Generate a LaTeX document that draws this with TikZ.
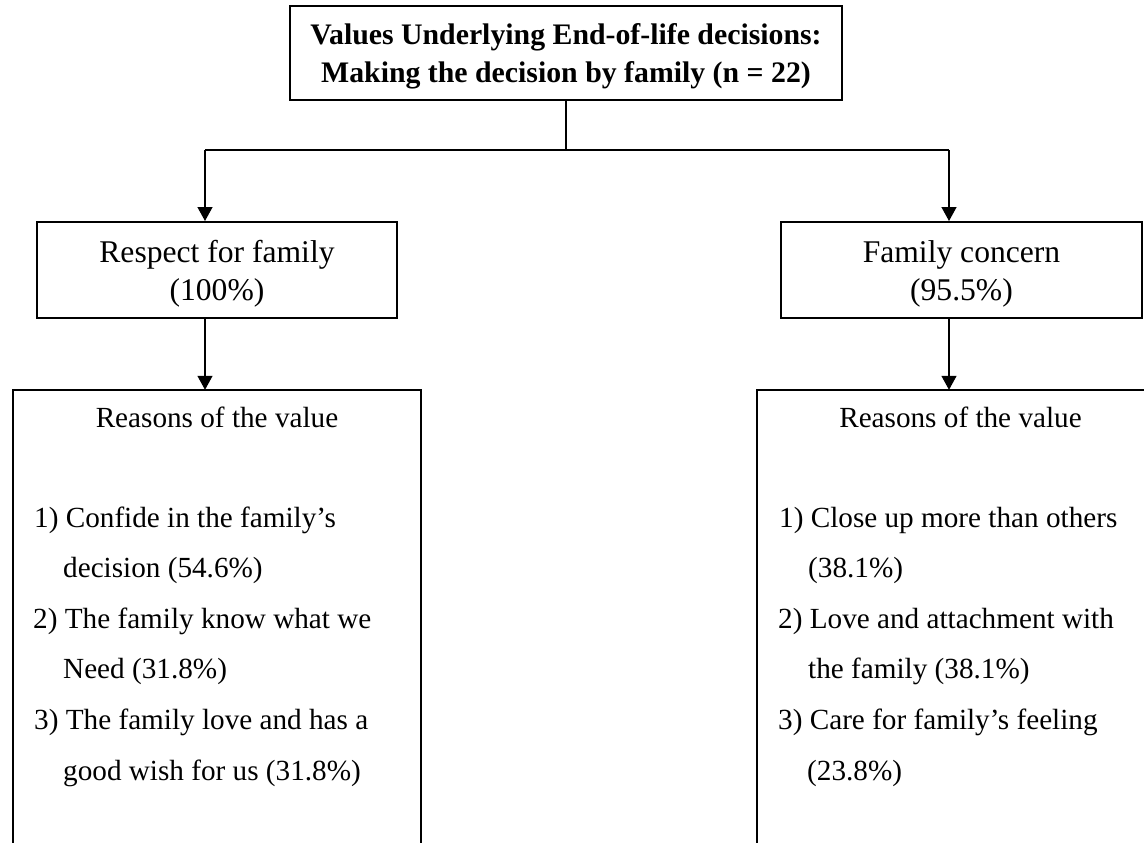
\documentclass[tikz,border=0pt]{standalone}
\usepackage{fontspec}
\setmainfont{Liberation Serif}
\usetikzlibrary{arrows.meta}

\tikzset{
  box/.style={draw, line width=2pt, rectangle, inner sep=0pt},
  openbox/.style={rectangle, inner sep=0pt},
  conn/.style={line width=1.4pt},
  arrowconn/.style={line width=1.4pt, -{Triangle[width=15pt,length=14pt]}},
  txt/.style={inner sep=0pt, font=\fontsize{29.2}{35}\selectfont},
  valtxt/.style={inner sep=0pt, font=\fontsize{31.6}{38}\selectfont},
  titletxt/.style={inner sep=0pt, font=\fontsize{29.8}{36}\selectfont\bfseries},
}

\begin{document}
\begin{tikzpicture}[x=1pt, y=-1pt]
\useasboundingbox (0,0) rectangle (1144,843);
\clip (0,0) rectangle (1144,843);

% top box
\node[box, minimum width=552pt, minimum height=94pt] (title) at (566,53) {};
\node[titletxt, anchor=base] (t1) at (566,45) {Values Underlying End-of-life decisions:};
\node[titletxt, anchor=base] (t2) at (566,82) {Making the decision by family (n = 22)};

% value boxes
\node[box, minimum width=360pt, minimum height=96pt] (respect) at (217,270) {};
\node[valtxt, anchor=base] (r1) at (217,262) {Respect for family};
\node[valtxt, anchor=base] (r2) at (217,300) {(100\%)};

\node[box, minimum width=361pt, minimum height=96pt] (concern) at (961.5,270) {};
\node[valtxt, anchor=base] (c1) at (961.5,262) {Family concern};
\node[valtxt, anchor=base] (c2) at (961.5,300) {(95.5\%)};

% reason boxes, running past the lower edge
\node[openbox, minimum width=408pt, minimum height=480pt] (reasonsL) at (217,630) {};
\draw[line width=2pt] (reasonsL.south west) -- (reasonsL.north west) -- (reasonsL.north east) -- (reasonsL.south east);
\node[openbox, minimum width=407pt, minimum height=480pt] (reasonsR) at (960.5,630) {};
\draw[line width=2pt] (reasonsR.south west) -- (reasonsR.north west) -- (reasonsR.north east) -- (reasonsR.south east);

% left reasons text
\node[txt, anchor=base] (lh) at (217,427) {Reasons of the value};
\node[txt, anchor=base west] (l1) at (34,527) {1) Confide in the family’s};
\node[txt, anchor=base west] (l1b) at (63,577) {decision (54.6\%)};
\node[txt, anchor=base west] (l2) at (33,628) {2) The family know what we};
\node[txt, anchor=base west] (l2b) at (63,678) {Need (31.8\%)};
\node[txt, anchor=base west] (l3) at (34,729) {3) The family love and has a};
\node[txt, anchor=base west] (l3b) at (63,780) {good wish for us (31.8\%)};

% right reasons text
\node[txt, anchor=base] (rh) at (960.5,427) {Reasons of the value};
\node[txt, anchor=base west] (q1) at (779,527) {1) Close up more than others};
\node[txt, anchor=base west] (q1b) at (808,577) {(38.1\%)};
\node[txt, anchor=base west] (q2) at (778,628) {2) Love and attachment with};
\node[txt, anchor=base west] (q2b) at (808,678) {the family (38.1\%)};
\node[txt, anchor=base west] (q3) at (778,729) {3) Care for family’s feeling};
\node[txt, anchor=base west] (q3b) at (807,780) {(23.8\%)};

% connectors
\coordinate (split) at (566,150);
\coordinate (aL) at (205,150);
\coordinate (aR) at (949,150);
\draw[conn] (title.south) -- (split);
\draw[conn] (aL) -- (aR);
\draw[arrowconn] (aL) -- (aL |- respect.north);
\draw[arrowconn] (aR) -- (aR |- concern.north);
\draw[arrowconn] (aL |- respect.south) -- (aL |- reasonsL.north);
\draw[arrowconn] (aR |- concern.south) -- (aR |- reasonsR.north);
\end{tikzpicture}
\end{document}
